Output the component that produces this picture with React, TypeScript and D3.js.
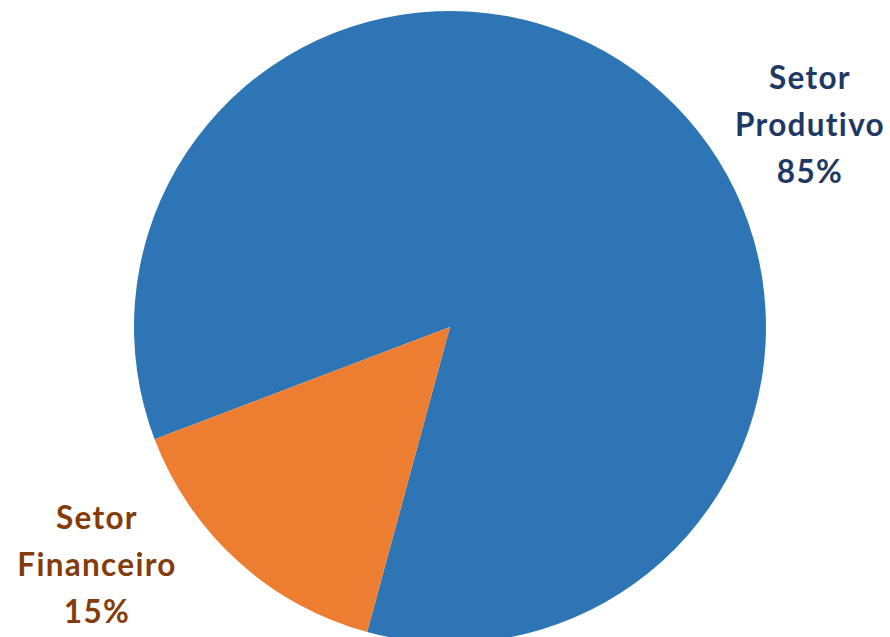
import React from "react";
import * as d3 from "d3";

const categories = ["Setor Produtivo", "Setor Financeiro"];
const values = [85, 15];
const labelLines = [["Setor", "Produtivo", "85%"], ["Setor", "Financeiro", "15%"]];
const colors = ["#2E75B6", "#ED7D31"];
const textColors = ["#1F3864", "#843C0C"];

const W = 890, H = 637;
const cx = 450, cy = 327, R = 316;
// orange slice ends at ~249.2 deg; blue starts there going clockwise
const startDeg = 249.2;

export default function App() {
  const pie = d3.pie<number>().sort(null)
    .startAngle((startDeg * Math.PI) / 180)
    .endAngle((startDeg * Math.PI) / 180 + 2 * Math.PI);
  const arcs = pie(values);
  const arc = d3.arc<d3.PieArcDatum<number>>().innerRadius(0).outerRadius(R);
  const labelPos = [{ x: 810, y: 89 }, { x: 97, y: 529 }];
  return (
    <svg width={W} height={H} style={{ position: "absolute", left: 0, top: 0 }}>
      <g transform={`translate(${cx},${cy})`}>
        {arcs.map((a, i) => (
          <path key={categories[i]} d={arc(a) || ""} fill={colors[i]} />
        ))}
      </g>
      {labelLines.map((lines, i) => (
        <text key={i} textAnchor="middle" fontFamily="Lato, 'Open Sans', sans-serif" fontWeight="bold" fontSize={31.5}
          letterSpacing={1.3} style={{ fontVariantLigatures: "none" }} fill={textColors[i]}>
          {lines.map((l, j) => (
            <tspan key={j} x={labelPos[i].x} y={labelPos[i].y + j * 47}>{l}</tspan>
          ))}
        </text>
      ))}
    </svg>
  );
}
